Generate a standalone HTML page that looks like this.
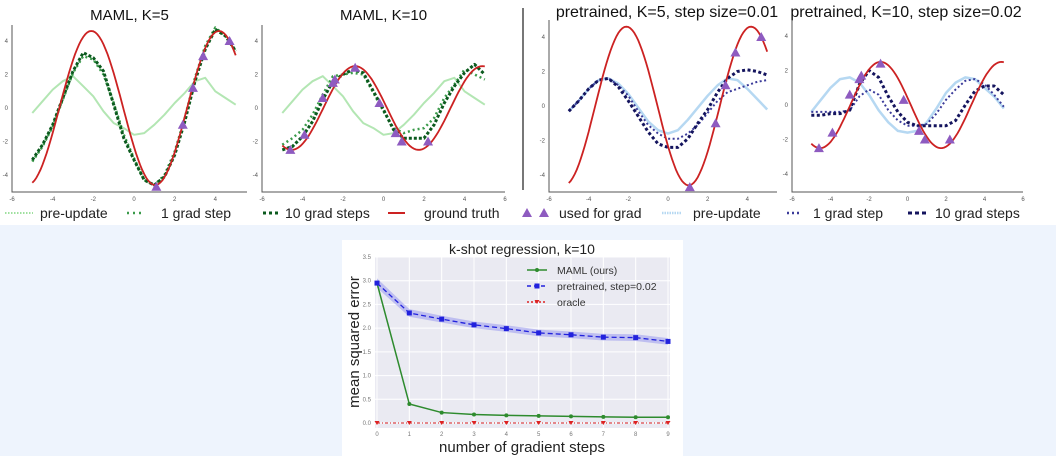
<!DOCTYPE html>
<html><head><meta charset="utf-8"><style>
html,body{margin:0;padding:0;width:1056px;height:456px;overflow:hidden;background:#eef4fd}
svg{display:block;font-family:"Liberation Sans",sans-serif}
</style></head><body>
<svg id="fig" width="1056" height="456" viewBox="0 0 1056 456" xmlns="http://www.w3.org/2000/svg">
<rect x="0" y="0" width="1056" height="225" fill="#ffffff"/>
<rect x="342" y="240" width="341" height="216" fill="#ffffff"/>
<line x1="523" y1="8" x2="523" y2="190" stroke="#777" stroke-width="2"/>
<g id="topPanels"></g>
<g id="legend" font-size="14" fill="#222">
  <line x1="5" y1="213" x2="33" y2="213" stroke="#9fe09f" stroke-width="2" stroke-dasharray="1.5,1.5"/>
  <text x="40" y="218">pre-update</text>
  <line x1="127" y1="213" x2="145" y2="213" stroke="#3a9a4a" stroke-width="2.5" stroke-dasharray="2,4"/>
  <text x="161" y="218">1 grad step</text>
  <line x1="263" y1="213" x2="278" y2="213" stroke="#0b5a1e" stroke-width="3" stroke-dasharray="3,3"/>
  <text x="285" y="218">10 grad steps</text>
  <line x1="388" y1="213" x2="405" y2="213" stroke="#cc2222" stroke-width="2"/>
  <text x="424" y="218">ground truth</text>
  <polygon points="527,208 522,217 532,217" fill="#8e5bc0"/>
  <polygon points="544,208 539,217 549,217" fill="#8e5bc0"/>
  <text x="559" y="218">used for grad</text>
  <line x1="662" y1="213" x2="682" y2="213" stroke="#b6d8f2" stroke-width="2.5" stroke-dasharray="1.5,1"/>
  <text x="693" y="218">pre-update</text>
  <line x1="787" y1="213" x2="801" y2="213" stroke="#3b3b9a" stroke-width="2.5" stroke-dasharray="2,3"/>
  <text x="813" y="218">1 grad step</text>
  <line x1="908" y1="213" x2="926" y2="213" stroke="#14145e" stroke-width="3" stroke-dasharray="4,3"/>
  <text x="935" y="218">10 grad steps</text>
</g>
<g id="bottomChart"></g>
</svg>
<script>
// ---- top panels data (x = -5..5 step 0.5) ----
const xs = [-5,-4.5,-4,-3.5,-3,-2.5,-2,-1.5,-1,-0.5,0,0.5,1,1.5,2,2.5,3,3.5,4,4.5,5];
const truthK5 = {amp:4.6, phase:2.1};
const truthK10 = {amp:2.5, phase:1.4};
const mamlPre = [-0.3,0.4,1.1,1.6,1.9,1.3,0.7,-0.2,-0.9,-1.2,-1.6,-1.5,-1.0,-0.4,0.3,0.9,1.6,1.8,1.0,0.6,0.2];
const maml5Step1 = [-3.2,-2.3,-1.1,0.5,2.1,3.1,2.9,2.0,0.3,-1.6,-3.0,-4.3,-4.6,-4.0,-2.6,-0.6,1.8,3.7,4.8,4.3,3.4];
const maml5Step10 = [-3.1,-2.2,-1.0,0.6,2.2,3.3,3.0,2.2,0.2,-1.8,-3.1,-4.3,-4.6,-4.1,-2.8,-0.8,1.6,3.5,4.7,4.3,3.4];
const maml10Step1 = [-2.2,-1.8,-1.3,-0.4,0.8,1.9,2.0,2.1,2.0,0.9,-0.2,-1.2,-1.5,-1.3,-1.2,-0.6,0.6,1.4,2.3,2.0,1.7];
const maml10Step10 = [-2.5,-2.3,-1.7,-0.8,0.5,1.6,2.0,2.3,2.1,1.0,-0.1,-1.3,-1.8,-1.8,-1.8,-1.0,0.3,1.3,2.1,2.6,2.0];
const pre5Pre = [-0.3,0.3,1.0,1.5,1.6,1.3,0.7,-0.1,-0.9,-1.4,-1.6,-1.4,-0.8,-0.1,0.6,1.2,1.6,1.5,1.0,0.4,-0.2];
const pre5Step1 = [-0.3,0.3,1.0,1.5,1.6,1.2,0.6,-0.3,-1.1,-1.6,-1.9,-1.9,-1.6,-1.1,-0.4,0.3,0.8,1.0,1.2,1.4,1.5];
const pre5Step10 = [-0.3,0.3,1.0,1.5,1.6,1.1,0.3,-0.6,-1.5,-2.2,-2.4,-2.4,-1.9,-1.0,-0.2,0.8,1.6,2.0,2.1,2.0,1.8];
const pre10Pre = [-0.4,0.3,1.0,1.5,1.6,1.3,0.6,-0.3,-1.0,-1.5,-1.6,-1.5,-1.0,-0.2,0.7,1.3,1.6,1.5,1.0,0.5,-0.2];
const pre10Step1 = [-0.4,-0.4,-0.4,-0.4,-0.3,0.5,0.9,0.6,-0.3,-0.9,-1.2,-1.2,-1.1,-0.5,0.3,0.9,1.4,1.5,1.2,0.6,-0.1];
const pre10Step10 = [-0.6,-0.6,-0.5,-0.5,-0.3,1.2,2.0,1.6,0.5,-0.4,-1.0,-1.2,-1.2,-1.2,-1.2,-0.9,0.0,0.8,1.1,1.1,0.6];
const ptsK5X = [1.1,2.4,2.9,3.4,4.7];
const ptsK5Y = [-4.7,-1.0,1.2,3.1,4.0];
const ptsK10X = [-4.6,-3.9,-3.0,-2.5,-2.4,-1.4,-0.2,0.6,0.9,2.2];
const ptsK10Y = [-2.5,-1.6,0.6,1.5,1.7,2.4,0.3,-1.5,-2.0,-2.0];
const xTicks = [-6,-4,-2,0,2,4,6];
const yTicks = [-4,-2,0,2,4];
// ---- bottom chart data ----
const steps = [0,1,2,3,4,5,6,7,8,9];
const mamlErr = [2.95,0.4,0.22,0.18,0.16,0.15,0.14,0.13,0.12,0.12];
const pretrainedErr = [2.95,2.32,2.19,2.07,1.99,1.90,1.86,1.81,1.80,1.72];
const pretrainedBand = [0.1,0.08,0.07,0.07,0.07,0.07,0.07,0.07,0.07,0.07];
const oracleErr = [0,0,0,0,0,0,0,0,0,0];
const errTicks = ["0.0","0.5","1.0","1.5","2.0","2.5","3.0","3.5"];

const NS="http://www.w3.org/2000/svg";
function mk(tag,attrs,parent){const e=document.createElementNS(NS,tag);for(const k in attrs)e.setAttribute(k,attrs[k]);parent.appendChild(e);return e;}
const topG=document.getElementById('topPanels');

const panels=[
 {name:'maml-k5',title:'MAML, K=5',x0:12,x1:256,yTop:25,y4:41,y0:108,xEnd:247,bottom:192,truth:truthK5,pre:mamlPre,s1:maml5Step1,s10:maml5Step10,px:ptsK5X,py:ptsK5Y,green:true},
 {name:'maml-k10',title:'MAML, K=10',x0:262,x1:505,yTop:25,y4:41,y0:108,xEnd:505,bottom:192,truth:truthK10,pre:mamlPre,s1:maml10Step1,s10:maml10Step10,px:ptsK10X,py:ptsK10Y,green:true},
 {name:'pretrained-k5',title:'pretrained, K=5, step size=0.01',x0:549,x1:787,yTop:20,y4:37,y0:106,xEnd:777,bottom:192,truth:truthK5,pre:pre5Pre,s1:pre5Step1,s10:pre5Step10,px:ptsK5X,py:ptsK5Y,green:false},
 {name:'pretrained-k10',title:'pretrained, K=10, step size=0.02',x0:792,x1:1023,yTop:20,y4:36,y0:105,xEnd:1023,bottom:192,truth:truthK10,pre:pre10Pre,s1:pre10Step1,s10:pre10Step10,px:ptsK10X,py:ptsK10Y,green:false}
];
panels.forEach(p=>{
  const g=mk('g',{},topG);
  
  
  const sx=v=>p.x0+(v+6)*(p.x1-p.x0)/12;
  const ky=(p.y0-p.y4)/4;
  const sy=v=>p.y0-v*ky;
  const isM=p.name.startsWith('maml');
  const t=mk('text',{x:isM?(p.x0+p.xEnd)/2:(p.name==='pretrained-k5'?667:906),y:isM?20:17,'text-anchor':'middle','font-size':isM?15:16,fill:'#111'},g);
  t.textContent=p.title;
  
  
  const ax=mk('path',{d:`M${p.x0},${p.yTop}V${p.bottom}H${p.xEnd}`,fill:'none',stroke:'#555','stroke-width':1},g);
  
  
  xTicks.forEach(v=>{const x=sx(v);if(x>p.xEnd+1)return;
    const l=mk('text',{x:x,y:p.bottom+9,'text-anchor':'middle','font-size':6,fill:'#555'},g);l.textContent=v;
    
    });
  yTicks.forEach(v=>{const l=mk('text',{x:p.x0-4,y:sy(v)+2,'text-anchor':'end','font-size':6,fill:'#555'},g);l.textContent=v;
    
    });
  const line=(arr,stroke,w,dash,name)=>{
    const d=arr.map((v,i)=>(i?'L':'M')+sx(xs[i]).toFixed(1)+','+sy(v).toFixed(1)).join('');
    const e=mk('path',{d:d,fill:'none',stroke:stroke,'stroke-width':w,'stroke-dasharray':dash,'stroke-linejoin':'round'},g);
    
    };
  if(p.green){
    line(p.pre,'#b3e6b3',2,'none','pre-update-line');
    line(p.s1,'#3a9a4a',2.5,'2,3','one-step-line');
    line(p.s10,'#0b5a1e',3,'3,2','ten-steps-line');
  }else{
    line(p.pre,'#b6d8f2',2.5,'none','pre-update-line');
    line(p.s1,'#3b3b9a',2,'2,2.5','one-step-line');
    line(p.s10,'#14145e',3,'3,2.5','ten-steps-line');
  }
  let d='';for(let i=0;i<=100;i++){const x=-5+i*0.1;const y=p.truth.amp*Math.cos(x+p.truth.phase);d+=(i?'L':'M')+sx(x).toFixed(1)+','+sy(y).toFixed(1);}
  const gt=mk('path',{d:d,fill:'none',stroke:'#cc2222','stroke-width':1.8},g);
  
  
  p.px.forEach((v,i)=>{const x=sx(v),y=sy(p.py[i]);
    const tr=mk('polygon',{points:`${x},${y-5} ${x-5},${y+4} ${x+5},${y+4}`,fill:'#8e5bc0'},g);
    
    });
});

// bottom chart
const bG=document.getElementById('bottomChart');
const L=375,R=670,T=257,B=428;
const bx=v=>377+v*(668-377)/9;
const by=v=>423-v*(423-257)/3.5;
const bg=mk('rect',{x:L,y:T,width:R-L,height:B-T,fill:'#eaeaf2'},bG);


errTicks.forEach(s=>{const v=parseFloat(s);const y=by(v);
  const gl=mk('line',{x1:L,x2:R,y1:y,y2:y,stroke:'#fff','stroke-width':1},bG);
  
  
  const t=mk('text',{x:L-4,y:y+2,'text-anchor':'end','font-size':6,fill:'#777'},bG);t.textContent=s;
  
  });
steps.forEach(v=>{const x=bx(v);
  const gl=mk('line',{x1:x,x2:x,y1:T,y2:B,stroke:'#fff','stroke-width':1},bG);
  
  
  const t=mk('text',{x:x,y:B+8,'text-anchor':'middle','font-size':6,fill:'#777'},bG);t.textContent=v;
  
  });
let band='M'+steps.map((s,i)=>bx(s)+','+by(pretrainedErr[i]+pretrainedBand[i])).join('L');
band+='L'+steps.slice().reverse().map(s=>bx(s)+','+by(pretrainedErr[s]-pretrainedBand[s])).join('L')+'Z';
const bandEl=mk('path',{d:band,fill:'#9999ee',opacity:0.55},bG);


const poly=(arr)=>steps.map((s,i)=>bx(s)+','+by(arr[i])).join(' ');
const ol=mk('polyline',{points:poly(oracleErr),fill:'none',stroke:'#dd2222','stroke-width':1,'stroke-dasharray':'3,2,1,2'},bG);


const pl=mk('polyline',{points:poly(pretrainedErr),fill:'none',stroke:'#2222dd','stroke-width':1.3,'stroke-dasharray':'5,3'},bG);


const ml=mk('polyline',{points:poly(mamlErr),fill:'none',stroke:'#2e8b2e','stroke-width':1.5},bG);


steps.forEach((s,i)=>{
  const m=mk('circle',{cx:bx(s),cy:by(mamlErr[i]),r:2,fill:'#2e8b2e'},bG);
  
  
  const q=mk('rect',{x:bx(s)-2.5,y:by(pretrainedErr[i])-2.5,width:5,height:5,fill:'#2222dd'},bG);
  
  
  const o=mk('polygon',{points:`${bx(s)-2.5},${by(oracleErr[i])-2} ${bx(s)+2.5},${by(oracleErr[i])-2} ${bx(s)},${by(oracleErr[i])+2}`,fill:'#dd2222'},bG);
  
  
});
function txt(s,attrs,name){const t=mk('text',attrs,bG);t.textContent=s;return t;}
txt('k-shot regression, k=10',{x:522,y:254,'text-anchor':'middle','font-size':14,fill:'#222'},'chart-title');
txt('number of gradient steps',{x:522,y:452,'text-anchor':'middle','font-size':15,fill:'#222'},'x-axis-title');
txt('mean squared error',{x:0,y:0,transform:'translate(359,342) rotate(-90)','text-anchor':'middle','font-size':15,fill:'#222'},'y-axis-title');
const lg=[['MAML (ours)','#2e8b2e','none',270],['pretrained, step=0.02','#2222dd','4,3',286],['oracle','#dd2222','2,2',302]];
lg.forEach((e,i)=>{
  const l=mk('line',{x1:527,x2:547,y1:e[3],y2:e[3],stroke:e[1],'stroke-width':1.5,'stroke-dasharray':e[2]},bG);
  
  
  let c;
  if(i==0){c=mk('circle',{cx:537,cy:e[3],r:2,fill:e[1]},bG);}
  else if(i==1){c=mk('rect',{x:534.5,y:e[3]-2.5,width:5,height:5,fill:e[1]},bG);}
  else {c=mk('polygon',{points:`534.5,${e[3]-2} 539.5,${e[3]-2} 537,${e[3]+2}`,fill:e[1]},bG);}
  
  
  txt(e[0],{x:557,y:e[3]+4,'font-size':10.5,fill:'#333'},'legend-label');
});
</script>
</body></html>
